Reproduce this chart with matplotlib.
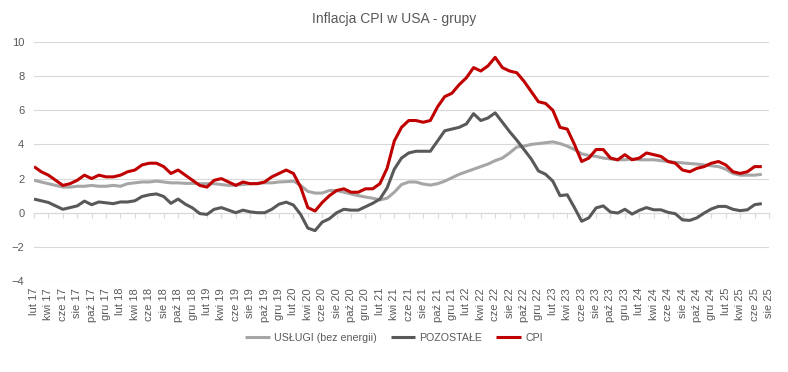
import numpy as np
import matplotlib
matplotlib.use("Agg")
import matplotlib.pyplot as plt

plt.rcParams['font.family'] = ['Liberation Sans', 'DejaVu Sans']

# ---- data (Feb 2017 .. Aug 2025, monthly) ----
month_abbr = ['sty', 'lut', 'mar', 'kwi', 'maj', 'cze', 'lip', 'sie', 'wrz', 'paź', 'lis', 'gru']
start_year, start_month = 2017, 2
end_year, end_month = 2025, 8
categories = []
y, m = start_year, start_month
while (y, m) <= (end_year, end_month):
    categories.append(f"{month_abbr[m - 1]} {y % 100:02d}")
    m += 1
    if m > 12:
        m = 1
        y += 1

uslugi = [
    1.9, 1.8, 1.7, 1.6, 1.5, 1.5, 1.55, 1.55, 1.6, 1.55, 1.55,
    1.6, 1.55, 1.7, 1.75, 1.8, 1.8, 1.85, 1.8, 1.75, 1.75, 1.72, 1.72,
    1.7, 1.7, 1.7, 1.65, 1.6, 1.62, 1.65, 1.7, 1.72, 1.75, 1.75, 1.8,
    1.82, 1.85, 1.6, 1.25, 1.15, 1.15, 1.3, 1.3, 1.2, 1.1, 1.0, 0.92,
    0.85, 0.75, 0.85, 1.2, 1.65, 1.8, 1.8, 1.68, 1.62, 1.7, 1.85, 2.05,
    2.25, 2.4, 2.55, 2.7, 2.85, 3.05, 3.2, 3.5, 3.85, 3.9, 4.0, 4.05,
    4.1, 4.15, 4.05, 3.9, 3.7, 3.45, 3.35, 3.3, 3.2, 3.15, 3.1, 3.1,
    3.15, 3.1, 3.1, 3.1, 3.05, 3.0, 2.95, 2.92, 2.88, 2.85, 2.8, 2.75,
    2.7, 2.55, 2.3, 2.2, 2.2, 2.2, 2.25,
]
pozostale = [
    0.8, 0.7, 0.6, 0.4, 0.2, 0.3, 0.4, 0.68, 0.47, 0.63, 0.58,
    0.53, 0.63, 0.63, 0.7, 0.95, 1.05, 1.1, 0.95, 0.55, 0.8, 0.5, 0.28,
    -0.05, -0.1, 0.2, 0.3, 0.15, 0.0, 0.15, 0.05, 0.0, 0.0, 0.2, 0.5,
    0.62, 0.45, -0.1, -0.9, -1.05, -0.55, -0.35, 0.0, 0.2, 0.15, 0.15, 0.35,
    0.55, 0.8, 1.45, 2.55, 3.2, 3.5, 3.6, 3.6, 3.6, 4.2, 4.8, 4.9,
    5.0, 5.2, 5.8, 5.4, 5.55, 5.85, 5.3, 4.75, 4.25, 3.7, 3.15, 2.45,
    2.25, 1.85, 1.0, 1.05, 0.3, -0.5, -0.3, 0.28, 0.4, 0.04, -0.02, 0.2,
    -0.08, 0.14, 0.3, 0.17, 0.17, 0.02, -0.06, -0.42, -0.45, -0.3, -0.02, 0.22,
    0.37, 0.37, 0.2, 0.12, 0.17, 0.47, 0.53,
]
cpi = [
    2.7, 2.4, 2.2, 1.9, 1.6, 1.7, 1.9, 2.2, 2.0, 2.2, 2.1,
    2.1, 2.2, 2.4, 2.5, 2.8, 2.9, 2.9, 2.7, 2.3, 2.5, 2.2, 1.9,
    1.6, 1.5, 1.9, 2.0, 1.8, 1.6, 1.8, 1.7, 1.7, 1.8, 2.1, 2.3,
    2.5, 2.3, 1.5, 0.3, 0.1, 0.6, 1.0, 1.3, 1.4, 1.2, 1.2, 1.4,
    1.4, 1.7, 2.6, 4.2, 5.0, 5.4, 5.4, 5.3, 5.4, 6.2, 6.8, 7.0,
    7.5, 7.9, 8.5, 8.3, 8.6, 9.1, 8.5, 8.3, 8.2, 7.7, 7.1, 6.5,
    6.4, 6.0, 5.0, 4.9, 4.0, 3.0, 3.2, 3.7, 3.7, 3.2, 3.1, 3.4,
    3.1, 3.2, 3.5, 3.4, 3.3, 3.0, 2.9, 2.5, 2.4, 2.6, 2.7, 2.9,
    3.0, 2.8, 2.4, 2.3, 2.4, 2.7, 2.7,
]
series_names = ['USŁUGI (bez energii)', 'POZOSTAŁE', 'CPI']
y_ticks = [-4, -2, 0, 2, 4, 6, 8, 10]
title = 'Inflacja CPI w USA - grupy'

# ---- figure ----
W, H = 788, 372
fig = plt.figure(figsize=(W / 100, H / 100), dpi=100)
ax = fig.add_axes([34 / W, 1 - 281 / H, (769 - 34) / W, (281 - 42) / H])

text_col = '#595959'
grid_col = '#D9D9D9'

x_all = np.arange(len(categories))
colors = ['#A6A6A6', '#595959', '#C00000']
for vals, name, col in zip([uslugi, pozostale, cpi], series_names, colors):
    ax.plot(np.arange(len(vals)), vals, color=col, lw=2.2, label=name,
            solid_joinstyle='round', solid_capstyle='butt', zorder=3)

ax.set_xlim(0, len(categories) - 1)
ax.set_ylim(y_ticks[0], y_ticks[-1])
ax.set_yticks(y_ticks)
ax.yaxis.grid(True, color=grid_col, lw=0.8)
ax.set_axisbelow(True)
for s in ['top', 'right', 'left']:
    ax.spines[s].set_visible(False)
ax.spines['bottom'].set_position(('data', 0))
ax.spines['bottom'].set_color(grid_col)
ax.spines['bottom'].set_linewidth(0.8)

tick_pos = x_all[::2]
ax.set_xticks(tick_pos)
ax.tick_params(axis='x', direction='out', length=3.5, color=grid_col, width=0.8,
               labelbottom=False)
ax.tick_params(axis='y', length=0, pad=7, labelsize=8, labelcolor=text_col)

sec = ax.secondary_xaxis('bottom')
sec.set_xticks(tick_pos, labels=[categories[i] for i in tick_pos])
sec.tick_params(length=0, pad=5, labelsize=8, labelcolor=text_col, labelrotation=90)
sec.spines['bottom'].set_visible(False)

fig.text(394 / W, 1 - 19 / H, title, ha='center', va='center', fontsize=10,
         color=text_col)

leg = fig.legend(loc='center', bbox_to_anchor=(0.5, 1 - 338 / H), ncol=3,
                 frameon=False, fontsize=7.7, handlelength=2.3, columnspacing=1.3,
                 handletextpad=0.4)
for t in leg.get_texts():
    t.set_color(text_col)

fig.savefig('out.png', dpi=100)
